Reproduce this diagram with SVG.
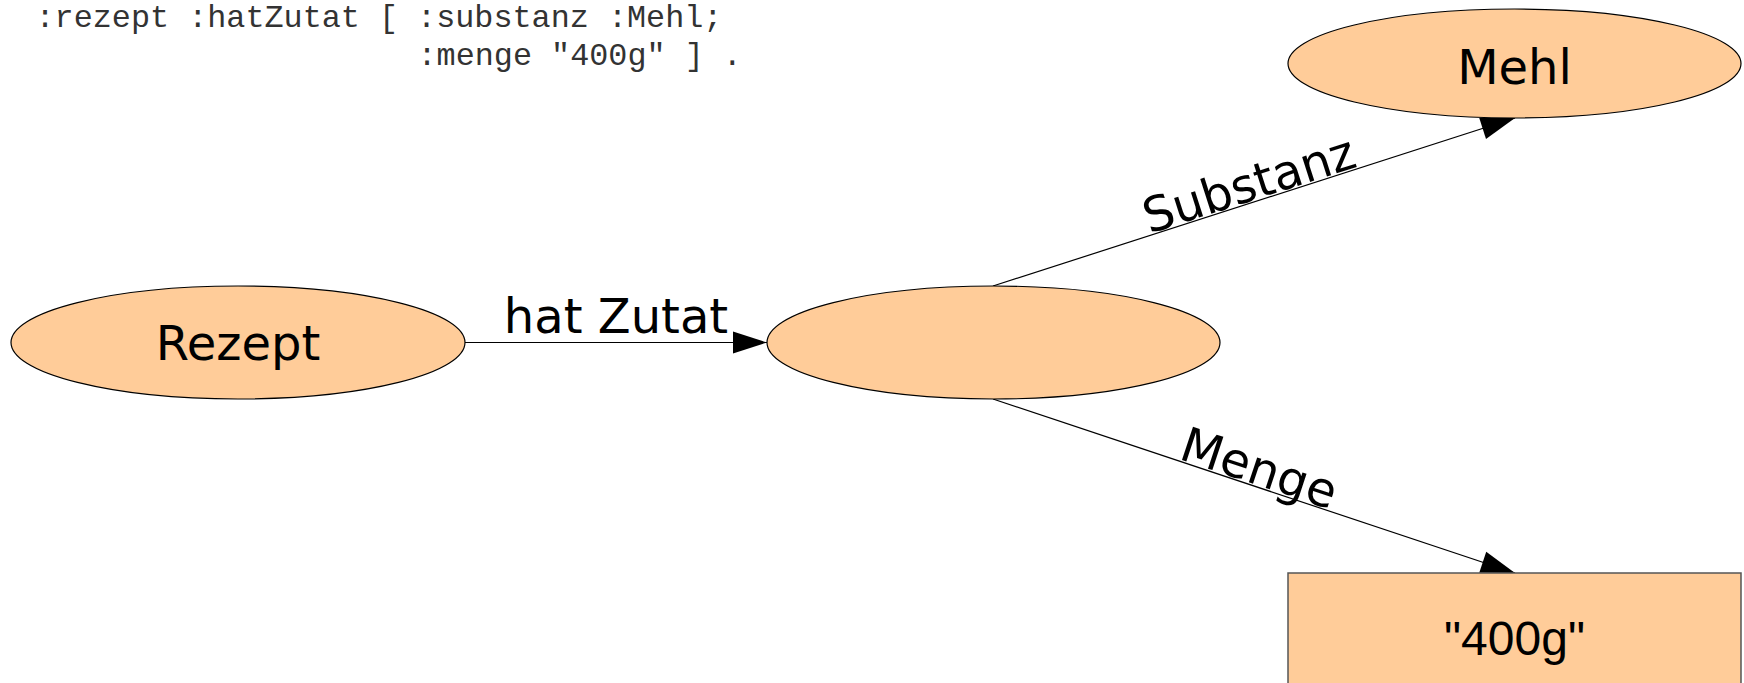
<svg xmlns="http://www.w3.org/2000/svg" width="1744" height="683" viewBox="0 0 1744 683">
<style>
.node{fill:#ffcc99;stroke:#000;stroke-width:1.2}
.box{fill:#ffcc99;stroke:#555;stroke-width:1.5}
.lbl{font-family:"DejaVu Sans",Verdana,sans-serif;font-size:48px;fill:#000;text-anchor:middle}
.lit{font-family:"Liberation Sans",Arial,sans-serif;font-size:48px;fill:#000;text-anchor:middle}
.code{font-family:"Liberation Mono","Courier New",monospace;font-size:31.8px;fill:#333}
.edge{stroke:#000;stroke-width:1.2;fill:none;marker-end:url(#arr)}
</style>
<defs>
<marker id="arr" markerUnits="userSpaceOnUse" markerWidth="34" markerHeight="22" refX="34" refY="11" orient="auto" overflow="visible">
<path d="M0,0 L34,11 L0,22 z" fill="#000"/>
</marker>
</defs>
<rect width="1744" height="683" fill="#fff"/>
<g id="code">
<text class="code" x="35.5" y="27">:rezept :hatZutat [ :substanz :Mehl;</text>
<text class="code" x="417.5" y="65">:menge "400g" ] .</text>
</g>
<g id="connectors">
<line class="edge" x1="465" y1="342.5" x2="767" y2="342.5"/>
<line class="edge" x1="993" y1="286" x2="1515" y2="118"/>
<line class="edge" x1="993" y1="399" x2="1515" y2="573"/>
<text class="lbl" x="616" y="333">hat Zutat</text>
<text class="lbl" transform="translate(1254,200) rotate(-17.8)" x="0" y="0">Substanz</text>
<text class="lbl" transform="translate(1254,484) rotate(18.4)" x="0" y="0">Menge</text>
</g>
<g id="rezept">
<ellipse class="node" cx="238" cy="342.5" rx="227" ry="56.5"/>
<text class="lbl" x="238" y="360">Rezept</text>
</g>
<g id="blank">
<ellipse class="node" cx="993.5" cy="342.5" rx="226.5" ry="56.5"/>
</g>
<g id="mehl">
<ellipse class="node" cx="1514.5" cy="63.5" rx="226.5" ry="54.5"/>
<text class="lbl" x="1514.5" y="84">Mehl</text>
</g>
<g id="menge400">
<rect class="box" x="1288" y="573" width="453" height="130"/>
<text class="lit" x="1514.5" y="655">"400g"</text>
</g>
</svg>
